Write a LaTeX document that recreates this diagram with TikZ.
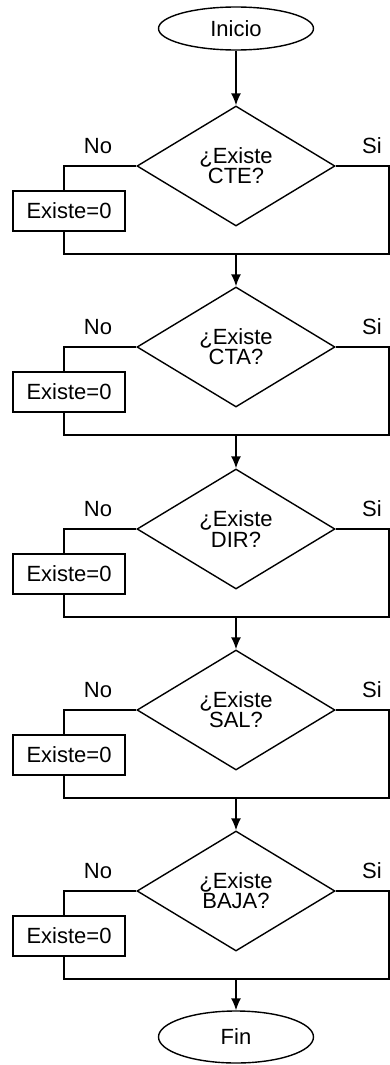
\documentclass[tikz,border=0pt]{standalone}
\usepackage{fontspec}
\setmainfont{Liberation Sans}
\usetikzlibrary{shapes.geometric,arrows.meta}
\begin{document}
\begin{tikzpicture}[x=1pt,y=-1pt,line width=1.4pt,
  every node/.style={font=\fontsize{22}{18.5}\selectfont},
  term/.style={draw,ellipse,minimum width=155pt,inner sep=0pt},
  decision/.style={draw,diamond,minimum width=198pt,minimum height=120pt,
    inner sep=0pt,align=center},
  setbox/.style={draw,rectangle,minimum width=112pt,minimum height=40pt,inner sep=0pt},
  lbl/.style={inner sep=0pt},
  arr/.style={-{Latex[length=12pt,width=10pt]}}]
\useasboundingbox (0,0) rectangle (390,1065);

% start and end terminals
\node[term,minimum height=43pt] (start) at (236,28.5) {Inicio};
\node[term,minimum height=52pt] (stop) at (236,1037) {Fin};

% one check per field: decision, "No" assignment, and the join below
\foreach \i/\c/\f in {1/166/CTE,2/347/CTA,3/529/DIR,4/710/SAL,5/891/BAJA}{
  \node[decision] (d\i) at (236,\c) {¿Existe\\\f?};
  \node[setbox] (b\i) at (69,\c+45) {Existe=0};
  \node[lbl] (no\i) at (98,\c-20) {No};
  \node[lbl] (si\i) at (372,\c-20) {Si};
  \coordinate (r\i) at (389,\c+88);
  \coordinate (j\i) at (236,\c+88);
  % "No" branch goes down through the assignment box
  \draw (d\i.west) -| ([xshift=-5pt]b\i.north);
  % "Si" branch runs down the right side and joins below the box
  \draw (d\i.east) -| (r\i) -| ([xshift=-5pt]b\i.south);
}

% main flow
\draw[arr] (start.south) -- (d1.north);
\draw[arr] (j1) -- (d2.north);
\draw[arr] (j2) -- (d3.north);
\draw[arr] (j3) -- (d4.north);
\draw[arr] (j4) -- (d5.north);
\draw[arr] (j5) -- (stop.north);
\end{tikzpicture}
\end{document}
